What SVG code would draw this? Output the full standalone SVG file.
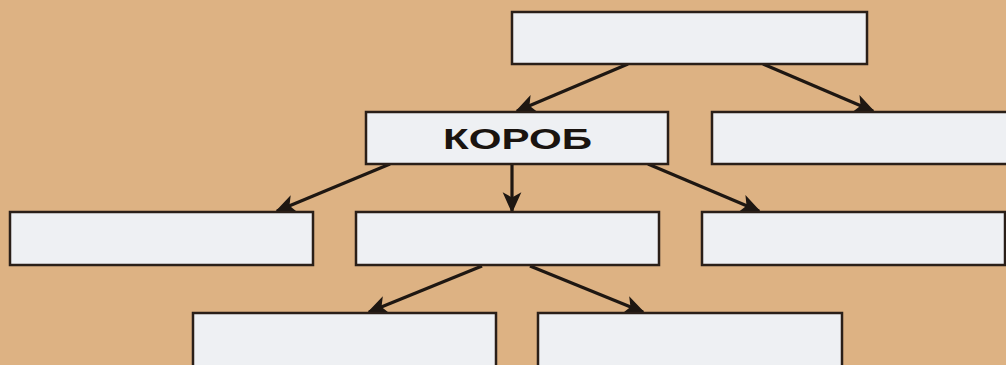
<svg xmlns="http://www.w3.org/2000/svg" width="1006" height="365" viewBox="0 0 1006 365">
<defs>
<style>
.box{fill:#eef0f3;stroke:#2a1f18;stroke-width:2.5}
.con{stroke:#1e1712;stroke-width:3.2;fill:none;marker-end:url(#ah)}
.lbl{font-family:"Liberation Sans",Arial,sans-serif;font-weight:bold;font-size:29px;fill:#1a1410}
</style>
<marker id="ah" viewBox="0 0 10 10" refX="9" refY="5" markerWidth="6.5" markerHeight="6.5" markerUnits="strokeWidth" orient="auto">
<path d="M0,0.5 L10,5 L0,9.5 L2.5,5 Z" fill="#1e1712"/>
</marker>
</defs>
<rect width="1006" height="365" fill="#ddb283"/>
<g id="connectors">
<line class="con" x1="628" y1="64" x2="517" y2="111"/>
<line class="con" x1="763" y1="64" x2="873" y2="111"/>
<line class="con" x1="390" y1="164" x2="277" y2="211"/>
<line class="con" x1="512" y1="164" x2="512" y2="211"/>
<line class="con" x1="648" y1="164" x2="759" y2="211"/>
<line class="con" x1="482" y1="266" x2="369" y2="312"/>
<line class="con" x1="530" y1="266" x2="643" y2="312"/>
</g>
<g id="n-top"><rect class="box" x="512" y="12" width="355" height="52"/></g>
<g id="n-korob"><rect class="box" x="366" y="112" width="302" height="52"/>
<text class="lbl" x="517.5" y="149" text-anchor="middle" textLength="149" lengthAdjust="spacingAndGlyphs">КОРОБ</text></g>
<g id="n-right1"><rect class="box" x="712" y="112" width="300" height="52"/></g>
<g id="n-left2"><rect class="box" x="10" y="212" width="303" height="53"/></g>
<g id="n-mid2"><rect class="box" x="356" y="212" width="303" height="53"/></g>
<g id="n-right2"><rect class="box" x="702" y="212" width="303" height="53"/></g>
<g id="n-bl"><rect class="box" x="193" y="313" width="303" height="60"/></g>
<g id="n-br"><rect class="box" x="538" y="313" width="304" height="60"/></g>
</svg>
